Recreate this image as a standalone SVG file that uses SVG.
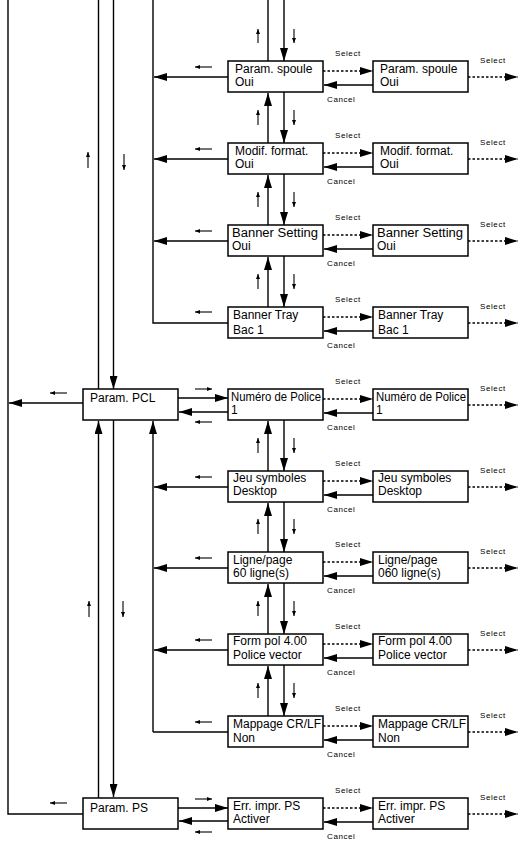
<svg xmlns="http://www.w3.org/2000/svg" width="520" height="842" viewBox="0 0 520 842">
<defs>
<marker id="a" viewBox="0 0 13 8" refX="13" refY="4" markerWidth="13" markerHeight="8" markerUnits="userSpaceOnUse" orient="auto"><path d="M0,0 L13,4 L0,8 z" fill="#000"/></marker>
<marker id="s" viewBox="0 0 5 4" refX="5" refY="2" markerWidth="5" markerHeight="4" markerUnits="userSpaceOnUse" orient="auto"><path d="M0,0 L5,2 L0,4 z" fill="#000"/></marker>
</defs>
<style>
rect{fill:#fff;stroke:#000;stroke-width:1.5}
.l{fill:none;stroke:#000;stroke-width:1.4}
.h{marker-end:url(#a)}
.d{fill:none;stroke:#000;stroke-width:1.4;stroke-dasharray:2.5,2}
.i{fill:none;stroke:#000;stroke-width:1.1;marker-end:url(#s)}
text{font-family:"Liberation Sans",Arial,sans-serif;fill:#000}
.t{font-size:12px}
.k{font-size:8px;letter-spacing:0.6px}
</style>
<g id="connectors">
<path class="l" d="M8,0 V814 H83"/>
<path class="l h" d="M83,403 H9"/>
<path class="i" d="M67,393 H50"/>
<path class="i" d="M67,803 H50"/>
<path class="l" d="M98.5,0 V389"/>
<path class="l h" d="M113.5,0 V389"/>
<path class="i" d="M88,168 V152"/>
<path class="i" d="M124,154 V170"/>
<path class="l h" d="M98.5,798 V421"/>
<path class="l h" d="M113.5,420 V797"/>
<path class="i" d="M89,617 V601"/>
<path class="i" d="M123,601 V617"/>
<path class="l" d="M153,0 V323 H228"/>
<path class="l h" d="M228,77 H154"/>
<path class="l h" d="M228,159 H154"/>
<path class="l h" d="M228,241 H154"/>
<path class="i" d="M212,67 H195"/>
<path class="i" d="M212,149 H195"/>
<path class="i" d="M212,231 H195"/>
<path class="i" d="M212,312 H195"/>
<path class="l h" d="M153,732 V421"/>
<path class="l" d="M153,732 H228"/>
<path class="l h" d="M228,487 H154"/>
<path class="l h" d="M228,568 H154"/>
<path class="l h" d="M228,650 H154"/>
<path class="i" d="M212,477 H195"/>
<path class="i" d="M212,558 H195"/>
<path class="i" d="M212,640 H195"/>
<path class="i" d="M212,722 H195"/>
<path class="l h" d="M178,398 H228"/>
<path class="l h" d="M228,412 H179"/>
<path class="i" d="M195,389 H212"/>
<path class="i" d="M212,422 H195"/>
<path class="l h" d="M178,808 H228"/>
<path class="l h" d="M228,821 H179"/>
<path class="i" d="M195,799 H212"/>
<path class="i" d="M212,832 H195"/>
<path class="l" d="M268,0 V61"/>
<path class="l h" d="M284,0 V61"/>
<path class="i" d="M258,43 V29"/>
<path class="i" d="M294,29 V43"/>
<path class="l h" d="M268,143 V93"/>
<path class="l h" d="M284,92 V143"/>
<path class="i" d="M258,125 V110"/>
<path class="i" d="M294,110 V125"/>
<path class="l h" d="M268,225 V175"/>
<path class="l h" d="M284,174 V225"/>
<path class="i" d="M258,207 V192"/>
<path class="i" d="M294,192 V207"/>
<path class="l h" d="M268,307 V257"/>
<path class="l h" d="M284,256 V307"/>
<path class="i" d="M258,289 V274"/>
<path class="i" d="M294,274 V289"/>
<path class="l h" d="M268,471 V421"/>
<path class="l h" d="M284,420 V471"/>
<path class="i" d="M258,453 V438"/>
<path class="i" d="M294,438 V453"/>
<path class="l h" d="M268,552 V503"/>
<path class="l h" d="M284,502 V552"/>
<path class="i" d="M258,534 V519"/>
<path class="i" d="M294,519 V534"/>
<path class="l h" d="M268,634 V584"/>
<path class="l h" d="M284,583 V634"/>
<path class="i" d="M258,616 V601"/>
<path class="i" d="M294,601 V616"/>
<path class="l h" d="M268,716 V666"/>
<path class="l h" d="M284,665 V716"/>
<path class="i" d="M258,698 V683"/>
<path class="i" d="M294,683 V698"/>
<g id="mr">
<path class="d h" d="M323,71 H373"/><path class="l h" d="M373,85 H324"/><path class="d h" d="M468,77 H518"/>
<path class="d h" d="M323,153 H373"/><path class="l h" d="M373,167 H324"/><path class="d h" d="M468,159 H518"/>
<path class="d h" d="M323,235 H373"/><path class="l h" d="M373,249 H324"/><path class="d h" d="M468,241 H518"/>
<path class="d h" d="M323,317 H373"/><path class="l h" d="M373,331 H324"/><path class="d h" d="M468,323 H518"/>
<path class="d h" d="M323,399 H373"/><path class="l h" d="M373,413 H324"/><path class="d h" d="M468,405 H518"/>
<path class="d h" d="M323,481 H373"/><path class="l h" d="M373,495 H324"/><path class="d h" d="M468,487 H518"/>
<path class="d h" d="M323,562 H373"/><path class="l h" d="M373,576 H324"/><path class="d h" d="M468,568 H518"/>
<path class="d h" d="M323,644 H373"/><path class="l h" d="M373,658 H324"/><path class="d h" d="M468,650 H518"/>
<path class="d h" d="M323,726 H373"/><path class="l h" d="M373,740 H324"/><path class="d h" d="M468,732 H518"/>
<path class="d h" d="M323,808 H373"/><path class="l h" d="M373,822 H324"/><path class="d h" d="M468,814 H518"/>
</g>
<g id="labels" class="k">
<text x="335" y="56">Select</text><text x="327" y="102">Cancel</text><text x="480" y="63">Select</text>
<text x="335" y="138">Select</text><text x="327" y="184">Cancel</text><text x="480" y="145">Select</text>
<text x="335" y="220">Select</text><text x="327" y="266">Cancel</text><text x="480" y="227">Select</text>
<text x="335" y="302">Select</text><text x="327" y="348">Cancel</text><text x="480" y="309">Select</text>
<text x="335" y="384">Select</text><text x="327" y="430">Cancel</text><text x="480" y="391">Select</text>
<text x="335" y="466">Select</text><text x="327" y="512">Cancel</text><text x="480" y="473">Select</text>
<text x="335" y="547">Select</text><text x="327" y="593">Cancel</text><text x="480" y="554">Select</text>
<text x="335" y="629">Select</text><text x="327" y="675">Cancel</text><text x="480" y="636">Select</text>
<text x="335" y="711">Select</text><text x="327" y="757">Cancel</text><text x="480" y="718">Select</text>
<text x="335" y="793">Select</text><text x="327" y="839">Cancel</text><text x="480" y="800">Select</text>
</g>
</g>
<g id="pcl"><rect x="83" y="389" width="95" height="31"/><text class="t" x="90" y="402">Param. PCL</text></g>
<g id="ps"><rect x="83" y="798" width="95" height="31"/><text class="t" x="90" y="812">Param. PS</text></g>
<g id="m1"><rect x="228" y="61" width="95" height="31"/><text class="t" x="235" y="73">Param. spoule</text><text class="t" x="235" y="86">Oui</text></g>
<g id="r1"><rect x="373" y="61" width="95" height="31"/><text class="t" x="380" y="73">Param. spoule</text><text class="t" x="380" y="86">Oui</text></g>
<g id="m2"><rect x="228" y="143" width="95" height="31"/><text class="t" x="235" y="155">Modif. format.</text><text class="t" x="235" y="168">Oui</text></g>
<g id="r2"><rect x="373" y="143" width="95" height="31"/><text class="t" x="380" y="155">Modif. format.</text><text class="t" x="380" y="168">Oui</text></g>
<g id="m3"><rect x="228" y="225" width="95" height="31"/><text class="t" x="232" y="237" textLength="86" lengthAdjust="spacingAndGlyphs">Banner Setting</text><text class="t" x="232" y="250">Oui</text></g>
<g id="r3"><rect x="373" y="225" width="95" height="31"/><text class="t" x="377" y="237" textLength="86" lengthAdjust="spacingAndGlyphs">Banner Setting</text><text class="t" x="377" y="250">Oui</text></g>
<g id="m4"><rect x="228" y="307" width="95" height="31"/><text class="t" x="233" y="319">Banner Tray</text><text class="t" x="233" y="334">Bac 1</text></g>
<g id="r4"><rect x="373" y="307" width="95" height="31"/><text class="t" x="378" y="319">Banner Tray</text><text class="t" x="378" y="334">Bac 1</text></g>
<g id="m5"><rect x="228" y="389" width="95" height="31"/><text class="t" x="231" y="401" textLength="90" lengthAdjust="spacingAndGlyphs">Numéro de Police</text><text class="t" x="231" y="414">1</text></g>
<g id="r5"><rect x="373" y="389" width="95" height="31"/><text class="t" x="376" y="401" textLength="90" lengthAdjust="spacingAndGlyphs">Numéro de Police</text><text class="t" x="376" y="414">1</text></g>
<g id="m6"><rect x="228" y="471" width="95" height="31"/><text class="t" x="233" y="482">Jeu symboles</text><text class="t" x="233" y="495">Desktop</text></g>
<g id="r6"><rect x="373" y="471" width="95" height="31"/><text class="t" x="378" y="482">Jeu symboles</text><text class="t" x="378" y="495">Desktop</text></g>
<g id="m7"><rect x="228" y="552" width="95" height="31"/><text class="t" x="233" y="564">Ligne/page</text><text class="t" x="233" y="577">60 ligne(s)</text></g>
<g id="r7"><rect x="373" y="552" width="95" height="31"/><text class="t" x="378" y="564">Ligne/page</text><text class="t" x="378" y="577">060 ligne(s)</text></g>
<g id="m8"><rect x="228" y="634" width="95" height="31"/><text class="t" x="233" y="645">Form pol 4.00</text><text class="t" x="233" y="659">Police vector</text></g>
<g id="r8"><rect x="373" y="634" width="95" height="31"/><text class="t" x="378" y="645">Form pol 4.00</text><text class="t" x="378" y="659">Police vector</text></g>
<g id="m9"><rect x="228" y="716" width="95" height="31"/><text class="t" x="233" y="728">Mappage CR/LF</text><text class="t" x="233" y="742">Non</text></g>
<g id="r9"><rect x="373" y="716" width="95" height="31"/><text class="t" x="378" y="728">Mappage CR/LF</text><text class="t" x="378" y="742">Non</text></g>
<g id="m10"><rect x="228" y="798" width="95" height="31"/><text class="t" x="233" y="810">Err. impr. PS</text><text class="t" x="233" y="823">Activer</text></g>
<g id="r10"><rect x="373" y="798" width="95" height="31"/><text class="t" x="378" y="810">Err. impr. PS</text><text class="t" x="378" y="823">Activer</text></g>
</svg>
